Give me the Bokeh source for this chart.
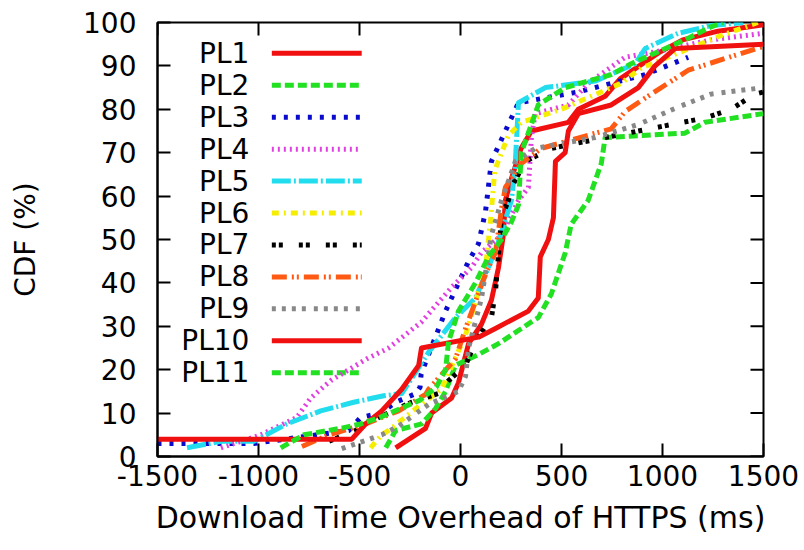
from bokeh.plotting import figure
from bokeh.models import Range1d, FixedTicker
from bokeh.embed import file_html
from bokeh.resources import INLINE
from bokeh.core.properties import value

# ---------------- data ----------------
names = ["PL1", "PL2", "PL3", "PL4", "PL5", "PL6", "PL7", "PL8", "PL9", "PL10", "PL11"]

pl1_x = [-321, -173, -143, -44, -10, 40, 104, 153, 188, 212, 222, 252, 300, 351, 534, 583, 716, 790, 980, 1100, 1275, 1500]
pl1_y = [2, 6.5, 10, 13.5, 17, 26, 30.5, 36, 43.5, 51, 59, 64, 71, 75, 77, 80, 83, 87, 93, 96, 98, 99.5]

pl2_x = [-370, -321, -193, -124, -74, -25, 89, 188, 351, 385, 450, 519, 548, 632, 697, 716, 1111, 1210, 1500]
pl2_y = [2, 6, 7.5, 11, 15, 21, 23.5, 26, 31, 32, 37.5, 47, 53.5, 59, 67.5, 73.5, 74.5, 77, 79]

pl3_x = [-1500, -1023, -553, -494, -395, -321, -222, -200, -195, -158, -74, 40, 89, 124, 153, 237, 287, 583, 914, 1127]
pl3_y = [3, 3, 6, 9, 10, 12.5, 14.5, 16, 19, 23.5, 33.5, 45, 49, 56.5, 68, 76.5, 81.5, 84, 88, 92]

pl4_x = [-1186, -988, -810, -741, -642, -464, -356, -193, -44, 54, 104, 203, 287, 336, 351, 370, 534, 632, 815, 993, 1240, 1500]
pl4_y = [2, 5, 9, 13.5, 17.5, 22.5, 25, 31, 39, 43.5, 47, 51, 59, 62, 73.5, 79, 81, 86, 92, 93.5, 96, 97.5]

pl5_x = [-1354, -1186, -1023, -860, -692, -529, -380, -291, -158, -25, 74, 138, 188, 252, 270, 287, 420, 667, 865, 914, 1077, 1240, 1400]
pl5_y = [2, 3.5, 3.5, 7.5, 10.5, 12.5, 14, 14.5, 24, 32, 36.5, 43.5, 49.5, 59, 66.5, 81.5, 85, 86.5, 90.5, 94, 97.5, 99.3, 100]

pl6_x = [-445, -390, -356, -222, -94, 25, 124, 150, 170, 237, 301, 499, 795, 895, 1290, 1472]
pl6_y = [2, 5, 6, 11, 15.5, 28, 43.5, 55, 66, 74, 77, 80, 86, 89.5, 97, 100]

pl7_x = [-650, -520, -405, -242, -109, -59, 25, 74, 153, 173, 188, 203, 237, 252, 321, 450, 716, 1210, 1339, 1457, 1500]
pl7_y = [3.5, 6, 9, 12.5, 14.5, 17.5, 21, 26.5, 32, 38, 46.5, 55, 59, 62, 68, 71, 73.5, 78, 80, 83.5, 84]

pl8_x = [-785, -652, -470, -390, -306, -173, -158, -25, 25, 124, 173, 203, 222, 301, 400, 746, 815, 944, 1127, 1500]
pl8_y = [2.3, 5, 7.5, 9, 10.5, 14.3, 15.5, 22.5, 29.5, 42, 47, 57, 62, 67.5, 71, 75.5, 79.5, 83.5, 89, 94.5]

pl9_x = [-588, -390, -306, -158, -10, 25, 40, 104, 153, 203, 272, 370, 667, 880, 1077, 1240, 1500]
pl9_y = [1.8, 5, 7, 12, 15, 18.5, 25, 36.5, 51, 59, 68, 71, 73.5, 76.5, 80.5, 83.5, 85]

pl10_x = [-1500, -538, -470, -390, -291, -207, -193, 89, 173, 336, 385, 395, 435, 460, 470, 518, 534, 583, 746, 880, 963, 1062, 1500]
pl10_y = [4, 4, 7.5, 10.5, 15.5, 21, 25, 27.5, 29.5, 33.5, 36.5, 46, 50, 55, 68, 70, 75, 79, 81, 85, 90, 94, 95]

pl11_x = [-890, -775, -593, -494, -400, -300, -200, -120, -74, -59, -10, 74, 138, 203, 252, 287, 301, 385, 519, 746, 845, 1111, 1240, 1300]
pl11_y = [2, 5, 6.5, 7.5, 9, 11, 13, 16, 20, 26.5, 33.5, 40, 46, 50, 54, 58, 70, 81, 85, 88, 90.5, 96, 99, 100]

x_ticks = [-1500, -1000, -500, 0, 500, 1000, 1500]
x_tick_labels = ["-1500", "-1000", "-500", "0", "500", "1000", "1500"]
y_ticks = [0, 10, 20, 30, 40, 50, 60, 70, 80, 90, 100]
x_label = "Download Time Overhead of HTTPS (ms)"
y_label = "CDF (%)"

# ---------------- styles ----------------
colors = ["#F01010", "#22E022", "#0A0ACC", "#E040E0", "#22DDEE", "#F5EE00",
          "#000000", "#FF5A14", "#888888", "#F01010", "#22E022"]
dashes = ["solid", "9 4", "4 8", "2 4", "19 3 2 3", "7 5 2 5",
          "4 3 4 16", "15 5 2 3 2 5", "4 6 4 6 4 6 4 8", "solid", "9 4"]
LW = 5
FONT = "DejaVu Sans"
FS = "28px"
FRAME_W = 606
FRAME_H = 434
TICK_PX = 13

X0, X1 = -1500, 1500
Y0, Y1 = 0, 100

series = [(pl1_x, pl1_y), (pl2_x, pl2_y), (pl3_x, pl3_y), (pl4_x, pl4_y),
          (pl5_x, pl5_y), (pl6_x, pl6_y), (pl7_x, pl7_y), (pl8_x, pl8_y),
          (pl9_x, pl9_y), (pl10_x, pl10_y), (pl11_x, pl11_y)]

p = figure(frame_width=FRAME_W, frame_height=FRAME_H,
           x_range=Range1d(X0, X1), y_range=Range1d(Y0, Y1),
           output_backend="svg", toolbar_location=None)
p.min_border_left = 157
p.min_border_right = 41
p.min_border_top = 22
p.min_border_bottom = 94
p.background_fill_color = "white"
p.border_fill_color = "white"
p.outline_line_color = "black"
p.outline_line_width = 2
p.xgrid.visible = False
p.ygrid.visible = False

xa = p.xaxis[0]
ya = p.yaxis[0]
for ax, ticks in ((xa, x_ticks), (ya, y_ticks)):
    ax.ticker = FixedTicker(ticks=ticks)
    ax.minor_tick_line_color = None
    ax.major_tick_in = TICK_PX
    ax.major_tick_out = 0
    ax.major_tick_line_width = 2
    ax.major_tick_line_color = "black"
    ax.axis_line_width = 2
    ax.axis_line_color = "black"
    ax.major_label_text_font = FONT
    ax.major_label_text_font_size = FS
    ax.major_label_text_color = "black"
    ax.axis_label_text_font = FONT
    ax.axis_label_text_font_style = "normal"
    ax.axis_label_text_color = "black"
xa.major_label_overrides = {t: s for t, s in zip(x_ticks, x_tick_labels)}
xa.major_label_standoff = 8
ya.major_label_standoff = 21
xa.axis_label = x_label
ya.axis_label = y_label
xa.axis_label_text_font_size = "30px"
ya.axis_label_text_font_size = FS
xa.axis_label_standoff = 11
ya.axis_label_standoff = 38

# mirrored inward ticks on the top and right frame edges
dy_tick = TICK_PX * (Y1 - Y0) / FRAME_H
dx_tick = TICK_PX * (X1 - X0) / FRAME_W
p.segment(x0=x_ticks, y0=[Y1] * len(x_ticks), x1=x_ticks, y1=[Y1 - dy_tick] * len(x_ticks),
          line_color="black", line_width=2)
p.segment(x0=[X1] * len(y_ticks), y0=y_ticks, x1=[X1 - dx_tick] * len(y_ticks), y1=y_ticks,
          line_color="black", line_width=2)

# ---------------- legend (label left of the sample, drawn first) ----------------
LEG_TEXT_X = -1045
LEG_X0 = -934
LEG_X1 = -489
LEG_Y0 = 92.9
LEG_DY = 7.36
leg_y = [LEG_Y0 - i * LEG_DY for i in range(len(names))]
p.text(x=[LEG_TEXT_X] * len(names), y=leg_y, text=names,
       text_align="right", text_baseline="middle",
       text_font=value(FONT), text_font_size=FS, text_color="black")
for i in range(len(names)):
    p.line(x=[LEG_X0, LEG_X1], y=[leg_y[i], leg_y[i]], line_color=colors[i],
           line_width=LW, line_dash=dashes[i])

# ---------------- curves ----------------
for i, (xs, ys) in enumerate(series):
    p.line(x=xs, y=ys, line_color=colors[i], line_width=LW,
           line_dash=dashes[i], line_join="round")

open("out.html", "w").write(file_html(p, INLINE))
